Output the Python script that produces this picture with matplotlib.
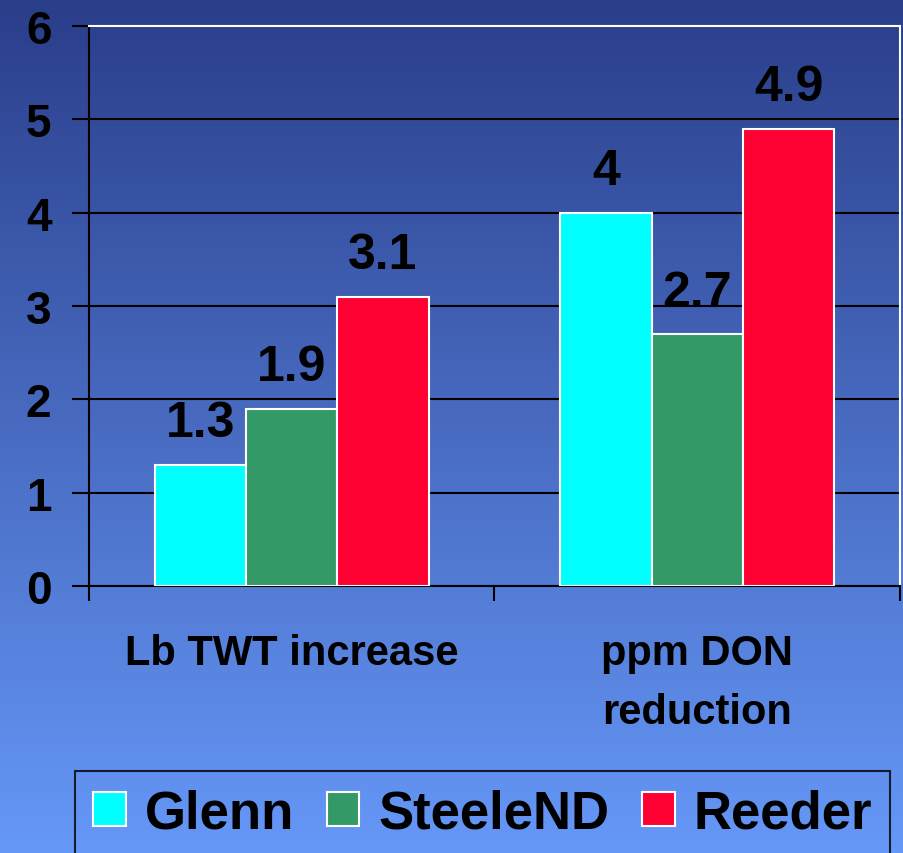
import matplotlib

matplotlib.use("Agg")
import matplotlib.pyplot as plt
import numpy as np

plt.rcParams["font.family"] = ["Liberation Sans", "DejaVu Sans"]
plt.rcParams["font.weight"] = "bold"

categories = ["Lb TWT increase", "ppm DON\nreduction"]
series = ["Glenn", "SteeleND", "Reeder"]
values = {
    "Glenn": [1.3, 4.0],
    "SteeleND": [1.9, 2.7],
    "Reeder": [3.1, 4.9],
}
value_labels = {
    "Glenn": ["1.3", "4"],
    "SteeleND": ["1.9", "2.7"],
    "Reeder": ["3.1", "4.9"],
}
colors = {"Glenn": "#00ffff", "SteeleND": "#339966", "Reeder": "#ff0033"}
y_ticks = [0, 1, 2, 3, 4, 5, 6]

fig = plt.figure(figsize=(9.04, 8.54), dpi=100)

# vertical blue gradient background
bg = fig.add_axes([0, 0, 1, 1], zorder=-10)
top = np.array([42, 62, 138]) / 255
bottom = np.array([102, 152, 248]) / 255
t = np.linspace(0, 1, 256)[:, None]
grad = (top[None, :] * (1 - t) + bottom[None, :] * t)[:, None, :]
bg.imshow(grad, aspect="auto", extent=[0, 1, 0, 1], origin="upper")
bg.axis("off")

ax = fig.add_axes([89 / 904, 1 - 587 / 854, 811 / 904, 560 / 854])
ax.patch.set_alpha(0)

x = np.arange(len(categories))
w = 0.225
for i, name in enumerate(series):
    pos = x + (i - 1) * w
    bars = ax.bar(pos, values[name], width=w, color=colors[name],
                  edgecolor="white", linewidth=1.5, label=name, zorder=3)
    for b, lab in zip(bars, value_labels[name]):
        ax.annotate(lab, (b.get_x() + b.get_width() / 2, b.get_height()),
                    xytext=(0, 20.5), textcoords="offset points",
                    ha="center", va="baseline", fontsize=36,
                    fontweight="bold", color="black", zorder=4)

ax.set_ylim(0, 6)
ax.set_xlim(-0.5, 1.5)
ax.set_yticks(y_ticks)
ax.set_yticklabels([str(v) for v in y_ticks], fontsize=33, fontweight="bold")
ax.tick_params(axis="y", direction="out", length=12, width=1.5, pad=15,
               color="black")

ax.set_xticks([-0.5, 0.5, 1.5])
ax.set_xticklabels([])
ax.set_xticks(x, minor=True)
ax.set_xticklabels(categories, minor=True, fontsize=30, fontweight="bold",
                   linespacing=1.6, va="top")
ax.tick_params(axis="x", which="major", direction="out", length=11, width=1.5)
ax.tick_params(axis="x", which="minor", length=0, pad=34)

ax.yaxis.grid(True, color="black", linewidth=1.5)
ax.set_axisbelow(True)
for side in ("left", "bottom"):
    ax.spines[side].set_color("black")
    ax.spines[side].set_linewidth(1.5)
for side in ("top", "right"):
    ax.spines[side].set_color("white")
    ax.spines[side].set_linewidth(1.5)

leg = fig.legend(loc="upper left", bbox_to_anchor=(75 / 904, 1 - 772 / 854),
                 ncol=3, fontsize=38, frameon=True, fancybox=False,
                 handlelength=0.62, handleheight=0.62, handletextpad=0.36,
                 columnspacing=0.62, borderpad=0.34, borderaxespad=0)
leg.get_frame().set_facecolor("none")
leg.get_frame().set_edgecolor("black")
leg.get_frame().set_linewidth(1.5)
for txt in leg.get_texts():
    txt.set_fontweight("bold")

fig.savefig("out.png", dpi=100)
